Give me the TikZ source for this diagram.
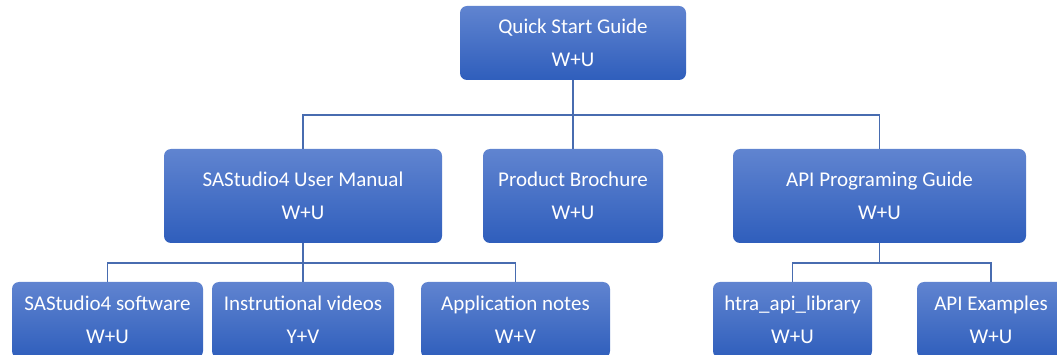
\documentclass[tikz,border=0pt]{standalone}
\usepackage{fontspec}
\setmainfont{Carlito}
\usepackage{tikz}
\definecolor{boxtop}{RGB}{96,132,208}
\definecolor{boxbottom}{RGB}{47,94,188}
\definecolor{linkblue}{RGB}{72,108,176}
\tikzstyle{docbox} = [rectangle, rounded corners=7pt, top color=boxtop,
bottom color=boxbottom, draw=none, text=white, align=center,
font=\fontsize{21}{33}\selectfont, inner sep=0pt]
\tikzstyle{link} = [draw=linkblue, line width=1.2pt]

\begin{document}
\begin{tikzpicture}[x=1pt, y=-1pt]
		\useasboundingbox (0,0) rectangle (1057,355);
		\clip (0,0) rectangle (1057,355);
		% top level
		\node [docbox, minimum width=226pt, minimum height=74pt] (guide) at (573,43) {Quick Start Guide\\W+U};
		% second level
		\node [docbox, minimum width=278pt, minimum height=94pt] (manual) at (303,196) {SAStudio4 User Manual\\W+U};
		\node [docbox, minimum width=180pt, minimum height=94pt] (brochure) at (573,196) {Product Brochure\\W+U};
		\node [docbox, minimum width=293pt, minimum height=94pt] (apiguide) at (879.5,196) {API Programing Guide\\W+U};
		% third level
		\node [docbox, minimum width=191pt, minimum height=76pt] (software) at (107.5,320) {SAStudio4 software\\W+U};
		\node [docbox, minimum width=182pt, minimum height=76pt] (videos) at (303,320) {Instrutional videos\\Y+V};
		\node [docbox, minimum width=189pt, minimum height=76pt] (notes) at (515.5,320) {Application notes\\W+V};
		\node [docbox, minimum width=159pt, minimum height=76pt] (library) at (792.5,320) {htra\_api\_library\\W+U};
		\node [docbox, minimum width=148pt, minimum height=76pt] (examples) at (991,320) {API Examples\\W+U};
		% connectors
		\coordinate (busA) at (573,115);
		\coordinate (busB) at (303,263);
		\coordinate (busC) at (879.5,263);
		\draw [link] (guide.south) -- (busA) -| (manual.north);
		\draw [link] (busA) -| (apiguide.north);
		\draw [link] (busA) -- (brochure.north);
		\draw [link] (manual.south) -- (busB) -| (software.north);
		\draw [link] (busB) -| (notes.north);
		\draw [link] (busB) -- (videos.north);
		\draw [link] (apiguide.south) -- (busC) -| (library.north);
		\draw [link] (busC) -| (examples.north);
\end{tikzpicture}
\end{document}
